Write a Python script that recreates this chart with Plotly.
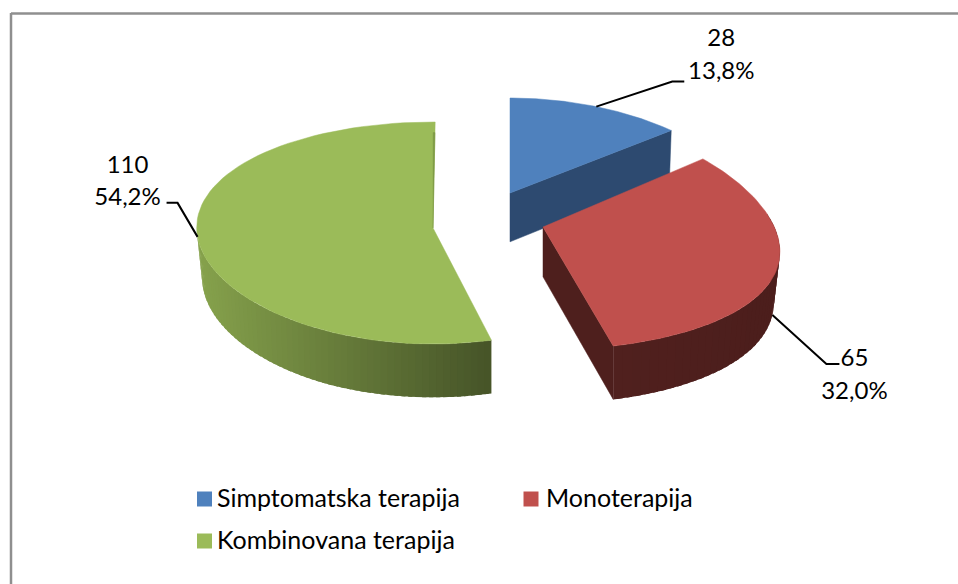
import math
import plotly.graph_objects as go

# ---- data ----
categories = ["Simptomatska terapija", "Monoterapija", "Kombinovana terapija"]
values = [28, 65, 110]

# ---- styles ----
top_colors = ["#4f81bd", "#c0504d", "#9bbb59"]
FONT = "Lato, Carlito, 'Open Sans', sans-serif"
total = sum(values)
W, H = 958, 584

# projection of each exploded slice (oblique pie drawn on pixel-like axes)
geom = [
    dict(cx=510, cy=193, c=-3, rx=230, ry=92, k=0.124),
    dict(cx=543, cy=227, c=7, rx=234, ry=116, k=0.16),
    dict(cx=433, cy=228, c=5, rx=236, ry=111, k=-0.05),
]

# slice angles come from the values
starts, ends = [], []
acc = 0.0
for v in values:
    starts.append(acc)
    acc += 360.0 * v / total
    ends.append(acc)


def top(i, deg):
    g = geom[i]
    t = math.radians(deg)
    s = 1 + g["k"] * (-math.cos(t))
    return g["cx"] + g["rx"] * math.sin(t) * s, g["cy"] + g["c"] - g["ry"] * math.cos(t)


def down(p):
    x, y = p
    dx = x - 479
    shift = max(0.0, abs(dx) - 150) * 0.04
    return x - math.copysign(shift, dx), y + 50 + 0.03 * (y - 233)


def lerp_hex(a, b, t):
    a = [int(a[j:j + 2], 16) for j in (1, 3, 5)]
    b = [int(b[j:j + 2], 16) for j in (1, 3, 5)]
    return "#%02x%02x%02x" % tuple(round(p + (q - p) * t) for p, q in zip(a, b))


fig = go.Figure()


def poly(pts, color, name=None, width=0.5):
    fig.add_trace(go.Scatter(
        x=[p[0] for p in pts] + [pts[0][0]],
        y=[p[1] for p in pts] + [pts[0][1]],
        mode="lines", fill="toself", fillcolor=color,
        line=dict(color=color, width=width),
        hoverinfo="skip", showlegend=False, name=name or "",
    ))


def arc(i, a, b, n=80):
    return [top(i, a + (b - a) * j / n) for j in range(n + 1)]


def apex(i):
    return geom[i]["cx"], geom[i]["cy"]


def wall_band(i, a, b, c0, c1, n=36):
    """Outer wall, shaded left to right across its horizontal extent."""
    xa, xb = top(i, a)[0], top(i, b)[0]
    for j in range(n):
        a0 = a + (b - a) * j / n
        a1 = a + (b - a) * (j + 1.6) / n  # overlap hides seams
        if abs(a1 - a) > abs(b - a):
            a1 = b
        p0, p1 = top(i, a0), top(i, a1)
        t = min(1.0, max(0.0, (0.5 * (p0[0] + p1[0]) - xa) / (xb - xa)))
        poly([p0, p1, down(p1), down(p0)], lerp_hex(c0, c1, t), width=0)


# blue slice (behind the others)
e = top(0, ends[0])
poly([apex(0), e, down(e), down(apex(0))], "#2d4a70")
poly([apex(0)] + arc(0, starts[0], ends[0]), top_colors[0], categories[0])

# green slice
wall_band(2, 272, starts[2], "#86a24c", "#465428", n=60)
GREEN_OVER = 0.5
poly([apex(2)] + arc(2, starts[2], ends[2] + GREEN_OVER), top_colors[2], categories[2])
edge = top(2, ends[2] + GREEN_OVER)
ax, ay = apex(2)
bx, by = ax + (edge[0] - ax) * 0.9, ay + (edge[1] - ay) * 0.9
poly([(ax, ay), (bx, by), (bx - 1.8, by)], "#7f9a47")

# red slice
e = top(1, ends[1])
poly([apex(1), e, down(e), down(apex(1))], "#4e1f1d")
wall_band(1, 80, ends[1], "#4c1e1c", "#50201e", n=40)
poly([apex(1)] + arc(1, starts[1], ends[1]), top_colors[1], categories[1])

# data labels with leader lines: slice angle, knee offset, run, label centre offsets
leaders = [
    dict(i=0, deg=25, lower=False, knee=(76, -25), run=12, lab=(37, -42, -9)),
    dict(i=1, deg=105, lower=True, knee=(54, 49), run=13, lab=(15, -4, 29)),
    dict(i=2, deg=268, lower=False, knee=(-20, -34), run=-11, lab=(-39, -36, -4)),
]
for L in leaders:
    i = L["i"]
    p0 = top(i, L["deg"])
    if L["lower"]:
        p0 = down(p0)
    p1 = (p0[0] + L["knee"][0], p0[1] + L["knee"][1])
    p2 = (p1[0] + L["run"], p1[1])
    fig.add_trace(go.Scatter(x=[p0[0], p1[0], p2[0]], y=[p0[1], p1[1], p2[1]], mode="lines",
                             line=dict(color="#000000", width=2), hoverinfo="skip", showlegend=False))
    dx, dy1, dy2 = L["lab"]
    pct = f"{100 * values[i] / total:.1f}".replace(".", ",") + "%"
    fig.add_trace(go.Scatter(
        x=[p2[0] + dx, p2[0] + dx], y=[p2[1] + dy1, p2[1] + dy2],
        mode="text", text=[str(values[i]), pct], textposition="middle center",
        textfont=dict(family=FONT, size=24, color="#000000"),
        hoverinfo="skip", showlegend=False,
    ))

# legend, laid out as in the reference (two rows, wide gap)
swatch_x = [204.5, 531, 204.5]
text_x = [217, 546, 217]
swatch_y = [499, 499, 541]
text_y = [501, 501, 543]
for name, col, sx, tx, sy, ty in zip(categories, top_colors, swatch_x, text_x, swatch_y, text_y):
    fig.add_trace(go.Scatter(
        x=[sx], y=[sy], mode="markers",
        marker=dict(symbol="square", size=15, color=col),
        hoverinfo="skip", showlegend=False, name=name,
    ))
    fig.add_trace(go.Scatter(
        x=[tx], y=[ty], mode="text", text=[name], textposition="middle right",
        textfont=dict(family=FONT, size=25, color="#000000"),
        hoverinfo="skip", showlegend=False,
    ))

# chart frame (its right and bottom edges fall outside the picture)
fig.add_shape(type="line", xref="x", yref="y", x0=11, x1=958, y0=13.5, y1=13.5, line=dict(color="#8f8f8f", width=2.5))
fig.add_shape(type="line", xref="x", yref="y", x0=11, x1=11, y0=13, y1=584, line=dict(color="#8f8f8f", width=2.5))

fig.update_layout(
    width=W, height=H, margin=dict(l=0, r=0, t=0, b=0),
    paper_bgcolor="#ffffff", plot_bgcolor="#ffffff", showlegend=False,
    xaxis=dict(range=[0, W], visible=False, fixedrange=True),
    yaxis=dict(range=[H, 0], visible=False, fixedrange=True),
)
fig.write_html("out.html", post_script="document.body.style.margin='0';document.body.style.overflow='hidden';",
               config={"displayModeBar": False})
